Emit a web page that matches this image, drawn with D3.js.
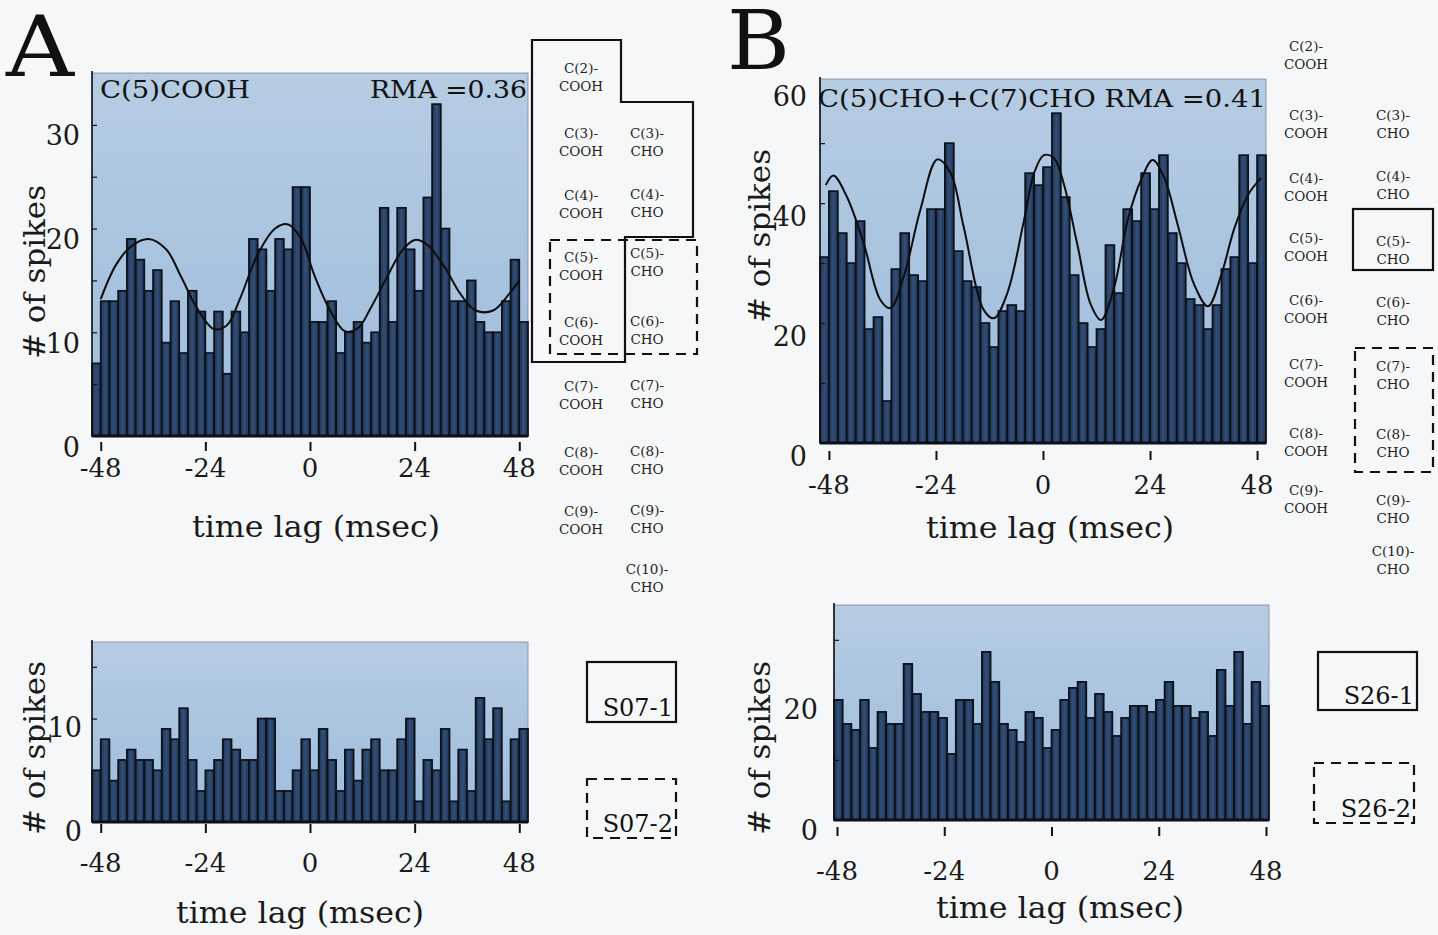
<!DOCTYPE html>
<html><head><meta charset="utf-8">
<script src="https://cdn.jsdelivr.net/npm/d3@7"></script>
<style>
html,body{margin:0;padding:0;background:#f6f7f9;}
svg{display:block;font-family:"DejaVu Serif",serif;}
</style></head><body>
<svg id="fig" width="1438" height="935"></svg>
<script>
// Cross-correlogram bins: 2 ms wide, centred from -49 to 49 ms
const lagBins = [-49,-47,-45,-43,-41,-39,-37,-35,-33,-31,-29,-27,-25,-23,-21,-19,-17,-15,-13,-11,
  -9,-7,-5,-3,-1,1,3,5,7,9,11,13,15,17,19,21,23,25,27,29,31,33,35,37,39,41,43,45,47,49];
const lagTicks = [-48,-24,0,24,48];

// Spike counts per bin
const countsA_odor = [7,13,13,14,19,17,14,16,9,13,8,14,12,8,12,6,12,10,19,18,14,19,18,24,24,
  11,11,13,8,10,11,9,10,22,11,22,18,14,23,32,20,13,13,15,11,10,10,13,17,11];
const countsA_spont = [5,8,4,6,7,6,6,5,9,8,11,6,3,5,6,8,7,6,6,10,10,3,3,5,8,
  5,9,6,3,7,4,7,8,5,5,8,10,2,6,5,9,2,7,3,12,8,11,2,8,9];
const countsB_odor = [31,42,35,30,37,19,21,7,29,35,28,27,39,39,50,32,27,26,20,16,22,23,22,45,43,
  46,55,41,28,20,16,19,33,25,39,37,45,39,48,35,30,24,23,19,23,29,31,48,30,48];
const countsB_spont = [20,16,15,20,12,18,16,16,26,21,18,18,17,11,20,20,16,28,23,16,15,13,18,17,12,
  15,20,22,23,17,21,18,14,17,19,19,18,20,23,19,19,17,18,14,25,19,28,16,23,19];

// Fitted oscillation curves: [lag, count]
const fitA = [[-48,13.2],[-44.5,16.5],[-41,18.3],[-37,19],[-33,18.0],[-29.5,15.3],[-26,12.4],[-22,10.3],
  [-19,10.7],[-16,13.3],[-12,17.5],[-8,20],[-5,20.4],[-2,19],[1,15.5],[4.5,12.2],[8,10.1],[11,10.4],
  [14,12.4],[17.5,15.2],[21,17.8],[24,18.9],[27,18.4],[31,16.2],[34.5,13.7],[38,12.1],[42,12.1],[45.5,13.6],[48,15]];
const fitB = [[-48.7,43],[-47,44.6],[-44,41.1],[-40.2,33.3],[-36.5,23.9],[-34.2,22.5],[-31.2,27.8],[-27.5,38.9],
  [-23.7,47.3],[-20.7,45],[-17.8,36.1],[-13.3,22.2],[-11,20.8],[-8,25],[-4.3,37],[-2,45],[0.2,48],[2.5,47.5],
  [4.7,43.1],[7.7,33.1],[10.7,23.1],[13,20.5],[16,26.1],[19,37.2],[22,43.9],[24.6,47.2],[27.2,44.2],
  [30.2,36.4],[33.9,26.4],[37,22.8],[40,28.1],[42.9,35.8],[46,41.4],[48.9,44.2]];

// Panel annotations
const titleA = "C(5)COOH", rmaA = "RMA =0.36";
const titleB = "C(5)CHO+C(7)CHO RMA =0.41";
const unitA = ["S07-1","S07-2"], unitB = ["S26-1","S26-2"];
const acidNums = ["C(2)-","C(3)-","C(4)-","C(5)-","C(6)-","C(7)-","C(8)-","C(9)-"];
const aldNums = ["C(3)-","C(4)-","C(5)-","C(6)-","C(7)-","C(8)-","C(9)-","C(10)-"];

const svg = d3.select("#fig");
const defs = svg.append("defs");
const bgGrad = defs.append("linearGradient").attr("id","plotbg").attr("x1",0).attr("y1",0).attr("x2",0).attr("y2",1);
bgGrad.append("stop").attr("offset","0%").attr("stop-color","#b6cce3");
bgGrad.append("stop").attr("offset","100%").attr("stop-color","#9dbcdc");
const barGrad = defs.append("linearGradient").attr("id","barfill").attr("x1",0).attr("y1",0).attr("x2",1).attr("y2",0);
barGrad.append("stop").attr("offset","0%").attr("stop-color","#1f3250");
barGrad.append("stop").attr("offset","50%").attr("stop-color","#334f78");
barGrad.append("stop").attr("offset","100%").attr("stop-color","#1f3250");

function panel(c) {
  const g = svg.append("g");
  const x = d3.scaleLinear().domain([-50,50]).range([c.x0,c.x1]);
  const y = d3.scaleLinear().domain([0,c.yMax]).range([c.y1,c.y0]);
  // tick axis may be laid out on its own span
  const xt = c.tickSpan ? d3.scaleLinear().domain([-48,48]).range(c.tickSpan) : x;

  g.append("rect").attr("x",c.x0).attr("y",c.y0).attr("width",c.x1-c.x0).attr("height",c.y1-c.y0)
    .attr("fill","url(#plotbg)").attr("stroke","#7d8898").attr("stroke-width",0.8);

  g.append("g").selectAll("rect").data(c.values).join("rect")
    .attr("x",(d,i)=>x(lagBins[i]-1)).attr("width",(d,i)=>x(lagBins[i]+1)-x(lagBins[i]-1))
    .attr("y",d=>y(d)).attr("height",d=>y(0)-y(d))
    .attr("fill","url(#barfill)").attr("stroke","#0a0f18").attr("stroke-width",1.7);

  // baseline and left axis line
  g.append("line").attr("x1",c.x0).attr("x2",c.x1).attr("y1",y(0)).attr("y2",y(0))
    .attr("stroke","#0a0f18").attr("stroke-width",3);
  const yAx = g.append("g").attr("transform",`translate(${c.x0},0)`)
    .call(d3.axisRight(y).tickValues(c.yTicks).tickSize(5).tickFormat(""));
  yAx.select(".domain").remove();
  yAx.selectAll("line").attr("stroke","#111").attr("stroke-width",1.2);
  g.append("line").attr("x1",c.x0).attr("x2",c.x0).attr("y1",c.y0-2).attr("y2",y(0))
    .attr("stroke","#111").attr("stroke-width",1.6);

  g.append("g").selectAll("text").data(c.yLabels).join("text")
    .attr("x",c.x0-c.yLabGap).attr("y",d=>y(d)+c.yLabShift)
    .attr("text-anchor","end").attr("dominant-baseline","central")
    .attr("font-size",27).attr("fill","#1a1a1a").text(d=>d);

  const xAx = g.append("g").attr("transform",`translate(0,${y(0)+c.xTickGap})`)
    .call(d3.axisBottom(xt).tickValues(lagTicks).tickSize(c.xTickLen).tickFormat(""));
  xAx.select(".domain").remove();
  xAx.selectAll("line").attr("stroke","#111").attr("stroke-width",2);
  g.append("g").selectAll("text").data(lagTicks).join("text")
    .attr("x",d=>xt(d)).attr("y",c.xLabY).attr("text-anchor","middle").attr("dominant-baseline","central")
    .attr("font-size",26).attr("fill","#1a1a1a").text(d=>d);

  g.append("text").attr("x",c.xTitle[0]).attr("y",c.xTitle[1]).attr("text-anchor","middle")
    .attr("dominant-baseline","central").attr("font-size",29).attr("fill","#1a1a1a")
    .attr("textLength",248).attr("lengthAdjust","spacingAndGlyphs").text("time lag (msec)");
  g.append("text").attr("transform",`translate(${c.yTitle[0]},${c.yTitle[1]}) rotate(-90)`)
    .attr("text-anchor","middle").attr("dominant-baseline","central").attr("font-size",29)
    .attr("fill","#1a1a1a").attr("textLength",174).attr("lengthAdjust","spacingAndGlyphs").text("# of spikes");

  if (c.fit) {
    g.append("path").datum(c.fit)
      .attr("d",d3.line().x(d=>x(d[0])).y(d=>y(d[1])).curve(d3.curveCatmullRom.alpha(0.5)))
      .attr("fill","none").attr("stroke","#0d0d0d").attr("stroke-width",2);
  }
  return {x,y,g};
}

const pA = panel({x0:92,x1:528,y0:73,y1:436,yMax:35,values:countsA_odor,fit:fitA,
  yTicks:[5,10,15,20,25,30],yLabels:[0,10,20,30],yLabGap:12,yLabShift:11,
  xTickGap:6,xTickLen:9,xLabY:468,xTitle:[316,527],yTitle:[35,272]});
pA.g.append("text").attr("x",100).attr("y",98).attr("font-size",25).attr("fill","#111")
  .attr("textLength",150).attr("lengthAdjust","spacingAndGlyphs").text(titleA);
pA.g.append("text").attr("x",527).attr("y",98).attr("font-size",25).attr("fill","#111")
  .attr("text-anchor","end").attr("textLength",157).attr("lengthAdjust","spacingAndGlyphs").text(rmaA);

panel({x0:92,x1:528,y0:642,y1:822,yMax:17.4,values:countsA_spont,
  yTicks:[5,10,15],yLabels:[0,10],yLabGap:10,yLabShift:9,
  xTickGap:2,xTickLen:9,xLabY:863,xTitle:[300,913],yTitle:[35,748]});

const pB = panel({x0:820,x1:1266,y0:79,y1:443,yMax:60.7,values:countsB_odor,fit:fitB,
  yTicks:[10,20,30,40,50],yLabels:[0,20,40,60],yLabGap:13,yLabShift:13,
  xTickGap:8,xTickLen:9,xLabY:485,xTitle:[1050,528],yTitle:[760,236]});
pB.g.append("text").attr("x",818).attr("y",107).attr("font-size",25).attr("fill","#111")
  .attr("textLength",448).attr("lengthAdjust","spacingAndGlyphs").text(titleB);

panel({x0:834,x1:1269,y0:605,y1:820,yMax:35.8,values:countsB_spont,tickSpan:[837,1266],
  yTicks:[10,20,30],yLabels:[0,20],yLabGap:16,yLabShift:10,
  xTickGap:7,xTickLen:9,xLabY:871,xTitle:[1060,908],yTitle:[760,748]});

// Panel letters
svg.append("text").attr("x",6).attr("y",76).attr("font-size",84).attr("fill","#111")
  .attr("textLength",68).attr("lengthAdjust","spacingAndGlyphs").text("A");
svg.append("text").attr("x",727).attr("y",69).attr("font-size",82).attr("fill","#111")
  .attr("textLength",63).attr("lengthAdjust","spacingAndGlyphs").text("B");

// Odorant grids
function odorGrid(col1x, col2x, acidY, aldY) {
  const g = svg.append("g").attr("font-size",13.5).attr("fill","#222").attr("text-anchor","middle");
  acidNums.forEach((t,i)=>{
    g.append("text").attr("x",col1x).attr("y",acidY[i]).attr("dominant-baseline","central").text(t);
    g.append("text").attr("x",col1x).attr("y",acidY[i]+18).attr("dominant-baseline","central").text("COOH");
  });
  aldNums.forEach((t,i)=>{
    g.append("text").attr("x",col2x).attr("y",aldY[i]).attr("dominant-baseline","central").text(t);
    g.append("text").attr("x",col2x).attr("y",aldY[i]+18).attr("dominant-baseline","central").text("CHO");
  });
}
odorGrid(581,647,[68,133,195,257,322,386,452,511],[133,194,253,321,385,451,510,569]);
odorGrid(1306,1393,[46,115,178,238,300,364,433,490],[115,176,241,302,366,434,500,551]);

const solid = {fill:"none",stroke:"#111","stroke-width":2.2};
const dashed = {fill:"none",stroke:"#111","stroke-width":2.2,"stroke-dasharray":"10,7"};
function shape(el, attrs){ Object.entries(attrs).forEach(([k,v])=>el.attr(k,v)); return el; }
shape(svg.append("path").attr("d","M532,40H621V102H693V237H625V362H532Z"), solid);
shape(svg.append("rect").attr("x",550).attr("y",240).attr("width",147).attr("height",114), dashed);
shape(svg.append("rect").attr("x",1353).attr("y",209).attr("width",80).attr("height",61), solid);
shape(svg.append("rect").attr("x",1355).attr("y",348).attr("width",78).attr("height",124), dashed);

// Unit legends
function unitBox(x,y,w,h,label,style){
  shape(svg.append("rect").attr("x",x).attr("y",y).attr("width",w).attr("height",h), style);
  svg.append("text").attr("x",x+w-3).attr("y",y+h-6).attr("text-anchor","end")
    .attr("font-size",24).attr("fill","#111").text(label);
}
unitBox(587,662,89,60,unitA[0],solid);
unitBox(587,779,89,59,unitA[1],dashed);
unitBox(1318,652,99,58,unitB[0],solid);
unitBox(1314,763,100,60,unitB[1],dashed);
</script>
</body></html>
